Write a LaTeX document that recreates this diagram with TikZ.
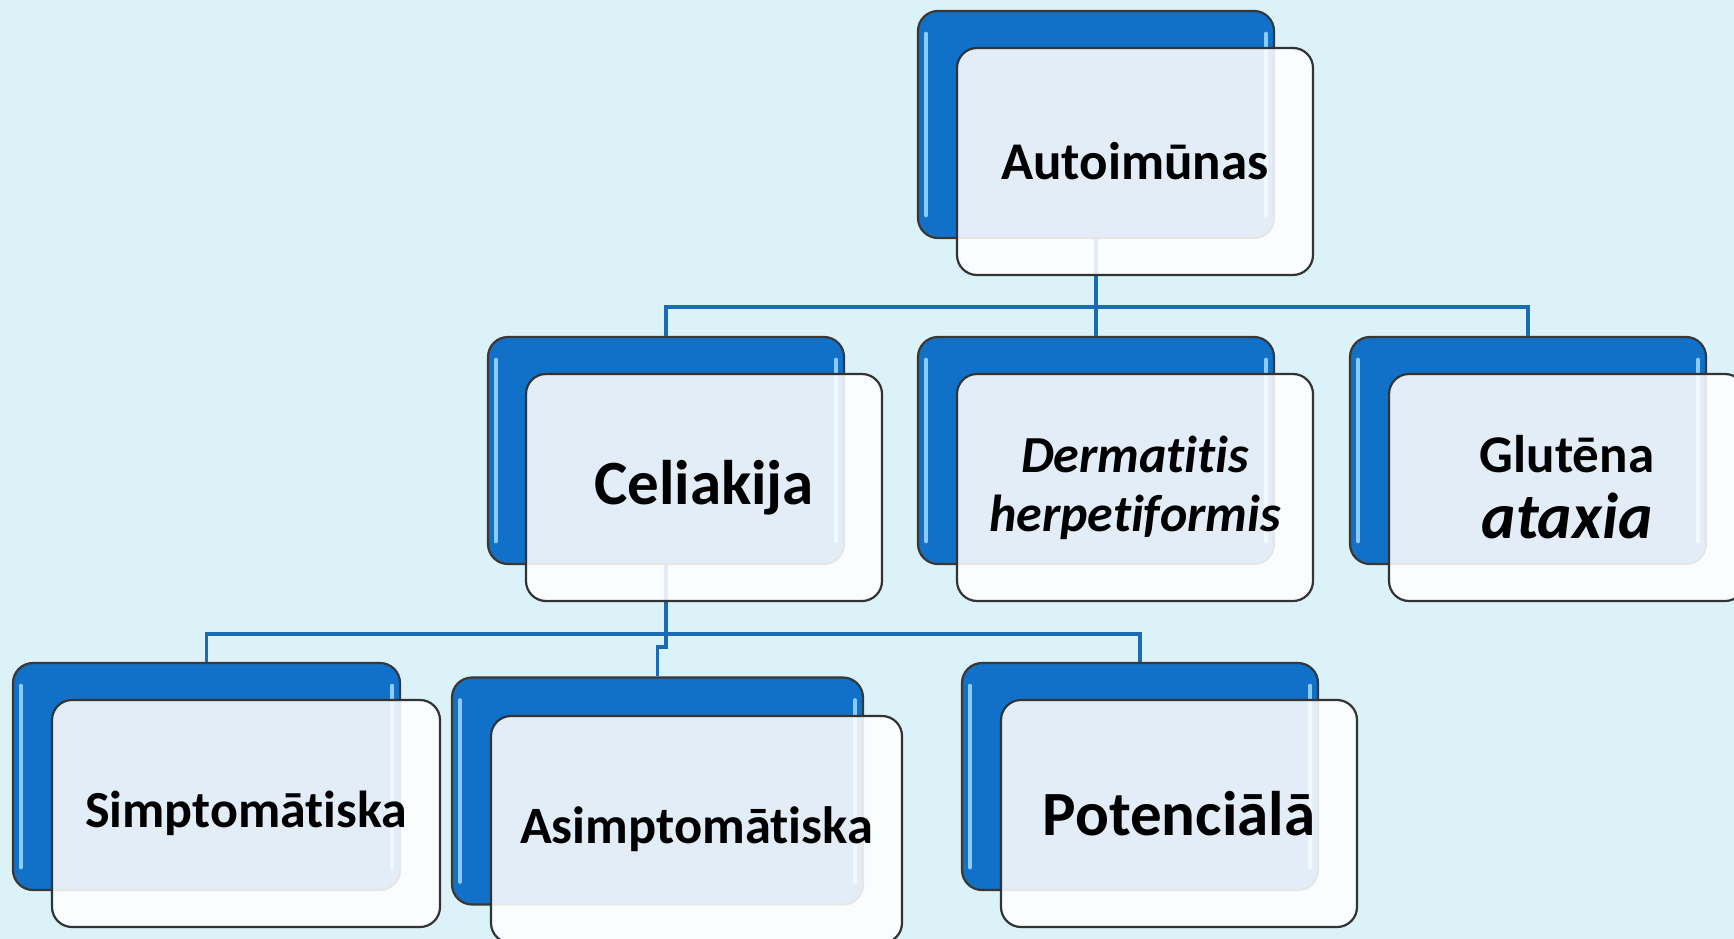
\documentclass[tikz,border=0pt]{standalone}
\usepackage{fontspec}
\setmainfont[Ligatures=NoCommon]{Carlito}
\usepackage{tikz}
\usetikzlibrary{positioning, calc}
\definecolor{bgCyan}{HTML}{DBF3F8}
\definecolor{mBlue}{HTML}{1170C7}
\definecolor{mLink}{HTML}{1A6AB6}
\definecolor{mGloss}{HTML}{8CCCFA}

\tikzset{
  blueback/.style={rectangle, rounded corners=20pt, fill=mBlue, draw=black!78,
    line width=2.2pt, inner sep=0pt, minimum width=356pt, minimum height=227pt},
  paper/.style={rectangle, rounded corners=20pt, fill=white, fill opacity=0.88,
    text opacity=1, draw=black!80, line width=2.2pt, inner sep=0pt, align=center,
    minimum width=356pt, minimum height=227pt, font=\bfseries},
  gloss/.style={draw=mGloss, line width=4.5pt, line cap=round},
  link/.style={draw=mLink, line width=3.4pt}
}

\begin{document}
\begin{tikzpicture}[x=1pt, y=-1pt]
    \fill[bgCyan] (0,0) rectangle (1734,939);
    \useasboundingbox (0,0) rectangle (1734,939);
    \clip (0,0) rectangle (1734,939);

    % back plates
    \node[blueback] (auto) at (1096,124.5) {};
    \node[blueback] (celi) at (666,450.5) {};
    \node[blueback] (derm) at (1096,450.5) {};
    \node[blueback] (glut) at (1528,450.5) {};
    \node[blueback, minimum width=387pt] (simp) at (206.5,776.5) {};
    \node[blueback, minimum width=411pt] (asim) at (657.5,791) {};
    \node[blueback] (pote) at (1140,776.5) {};
    \foreach \n in {auto,celi,derm,glut,simp,asim,pote} {
      \draw[gloss] ([shift={(9,24)}]\n.north west) -- ([shift={(9,-24)}]\n.south west);
      \draw[gloss] ([shift={(-9,24)}]\n.north east) -- ([shift={(-9,-24)}]\n.south east);
    }

    % connectors
    \coordinate (bar1) at (1096,307);
    \coordinate (bar2) at (666,634);
    \coordinate (kink) at (666,647);
    \draw[link] (auto.south) -- (derm.north);
    \draw[link] (celi.north) |- (bar1) -| (glut.north);
    \draw[link] (celi.south) -- (kink) -| (asim.north);
    \draw[link] (simp.north) |- (bar2) -| (pote.north);

    % front cards
    \node[paper, font=\fontsize{53}{58}\selectfont\bfseries] (autoT) at ([shift={(39,37)}]auto.center) {Autoimūnas};
    \node[paper, font=\fontsize{63}{70}\selectfont\bfseries] (celiT) at ([shift={(38,37)}]celi.center) {Celiakija};
    \node[paper, font=\fontsize{52}{59}\selectfont\bfseries\itshape] (dermT) at ([shift={(39,37)}]derm.center) {Dermatitis\\herpetiformis};
    \node[paper, font=\fontsize{53}{66}\selectfont\bfseries] (glutT) at ([shift={(39,37)}]glut.center) {Glutēna\\{\fontsize{65}{66}\selectfont\itshape ataxia}};
    \node[paper, minimum width=388pt, font=\fontsize{52}{58}\selectfont\bfseries] (simpT) at ([shift={(39.5,37)}]simp.center) {Simptomātiska};
    \node[paper, minimum width=411pt, font=\fontsize{52.5}{58}\selectfont\bfseries] (asimT) at ([shift={(39,38.5)}]asim.center) {Asimptomātiska};
    \node[paper, font=\fontsize{63}{70}\selectfont\bfseries] (poteT) at ([shift={(39,37)}]pote.center) {Potenciālā};
\end{tikzpicture}
\end{document}
